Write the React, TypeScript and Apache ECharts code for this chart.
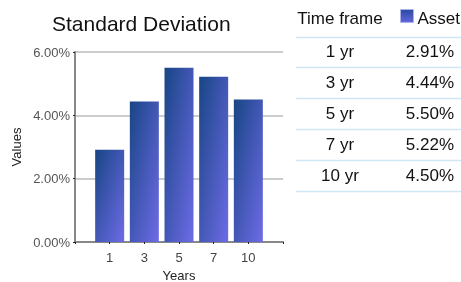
import React, { useEffect, useRef } from "react";
import * as echarts from "echarts";

const title = "Standard Deviation";
const categories = ["1", "3", "5", "7", "10"];
const values = [2.91, 4.44, 5.5, 5.22, 4.5];
const yTicks = [0, 2, 4, 6];
const tableHeader = ["Time frame", "Asset"];
const timeFrames = ["1 yr", "3 yr", "5 yr", "7 yr", "10 yr"];
const xName = "Years";
const yName = "Values";

const FONT = "Liberation Sans, Arial, sans-serif";

export default function App() {
  const ref = useRef<HTMLDivElement>(null);
  useEffect(() => {
    if (!ref.current) return;
    const chart = echarts.init(ref.current, null, { renderer: "svg" });
    const barGrad = new echarts.graphic.LinearGradient(0, 0, 1, 1, [
      { offset: 0, color: "#184585" },
      { offset: 1, color: "#6e6be6" },
    ]);
    const legendGrad = new echarts.graphic.LinearGradient(0, 0, 0, 1, [
      { offset: 0, color: "#2b4aa0" },
      { offset: 1, color: "#6466dc" },
    ]);
    const paddedCats = ["", ...categories, ""];
    const paddedVals: any[] = ["-", ...values, "-"];

    const rowTop = 36.5;
    const rowH = 30.8;
    const graphics: any[] = [];
    graphics.push({
      type: "text",
      left: 52,
      top: 13,
      style: { text: title, font: `21px ${FONT}`, fill: "#111" },
    });
    graphics.push({
      type: "text",
      x: 340,
      y: 18,
      style: {
        text: tableHeader[0],
        font: `17px ${FONT}`,
        fill: "#111",
        textAlign: "center",
        textVerticalAlign: "middle",
      },
    });
    graphics.push({
      type: "rect",
      shape: { x: 400.5, y: 9.5, width: 13, height: 13 },
      style: { fill: legendGrad, stroke: "#a9b4ea", lineWidth: 1 },
    });
    graphics.push({
      type: "text",
      x: 460,
      y: 18,
      style: {
        text: tableHeader[1],
        font: `17px ${FONT}`,
        fill: "#111",
        textAlign: "right",
        textVerticalAlign: "middle",
      },
    });
    for (let i = 0; i <= timeFrames.length; i++) {
      const y = Math.round(rowTop + i * rowH) + 0.5;
      graphics.push({
        type: "line",
        shape: { x1: 296, y1: y, x2: 461, y2: y },
        style: { stroke: "#cfe6f4", lineWidth: 1.5 },
      });
    }
    timeFrames.forEach((t, i) => {
      const cy = rowTop + (i + 0.5) * rowH;
      graphics.push({
        type: "text",
        x: 340,
        y: cy,
        style: {
          text: t,
          font: `17px ${FONT}`,
          fill: "#111",
          textAlign: "center",
          textVerticalAlign: "middle",
        },
      });
      graphics.push({
        type: "text",
        x: 454,
        y: cy,
        style: {
          text: values[i].toFixed(2) + "%",
          font: `17px ${FONT}`,
          fill: "#111",
          textAlign: "right",
          textVerticalAlign: "middle",
        },
      });
    });

    chart.setOption({
      animation: false,
      grid: {
        left: 75,
        right: 178,
        top: 52,
        bottom: 40,
        containLabel: false,
        outerBoundsMode: "none",
      },
      xAxis: {
        type: "category",
        data: paddedCats,
        boundaryGap: false,
        name: xName,
        nameLocation: "middle",
        nameGap: 27,
        nameTextStyle: { fontFamily: FONT, fontSize: 13, color: "#222" },
        axisLine: { lineStyle: { color: "#888", width: 2 } },
        axisTick: { show: true, length: 2, lineStyle: { color: "#222" } },
        axisLabel: { fontFamily: FONT, fontSize: 13, color: "#444", margin: 9 },
        splitLine: { show: false },
      },
      yAxis: {
        type: "value",
        min: yTicks[0],
        max: yTicks[yTicks.length - 1],
        interval: 2,
        name: yName,
        nameLocation: "middle",
        nameGap: 52,
        nameRotate: 90,
        nameTextStyle: { fontFamily: FONT, fontSize: 13, color: "#222" },
        axisLine: { show: true, lineStyle: { color: "#888", width: 2 } },
        axisTick: { show: true, length: 2, lineStyle: { color: "#222" } },
        axisLabel: {
          fontFamily: FONT,
          fontSize: 13,
          color: "#555",
          margin: 5,
          formatter: (v: number) => v.toFixed(2) + "%",
        },
        splitLine: { lineStyle: { color: "#cccccc", width: 2 } },
      },
      series: [
        {
          type: "bar",
          data: paddedVals,
          barWidth: 29,
          itemStyle: { color: barGrad },
        },
      ],
      graphic: graphics,
    });
    return () => chart.dispose();
  }, []);
  return (
    <div
      ref={ref}
      style={{ position: "fixed", left: 0, top: 0, width: 461, height: 282 }}
    />
  );
}
